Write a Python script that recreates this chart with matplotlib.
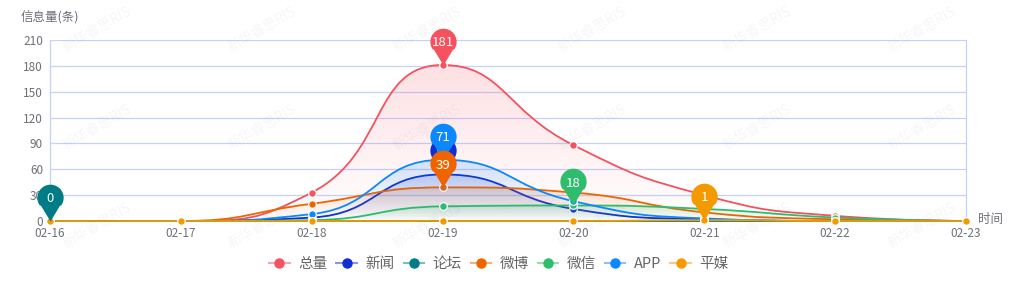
import numpy as np
import matplotlib
matplotlib.use("Agg")
import matplotlib.pyplot as plt
from matplotlib.path import Path
from matplotlib.patches import PathPatch
from matplotlib.lines import Line2D
from matplotlib.colors import to_rgb

plt.rcParams['font.family'] = ['Noto Sans CJK SC', 'DejaVu Sans']

# data
dates = ["02-16", "02-17", "02-18", "02-19", "02-20", "02-21", "02-22", "02-23"]
names = ["总量", "新闻", "论坛", "微博", "微信", "APP", "平媒"]
total = [0, 0, 33, 181, 88, 30, 6, 0]
news = [0, 0, 4, 54, 14, 2, 0, 0]
forum = [0, 0, 0, 0, 0, 0, 0, 0]
weibo = [0, 0, 20, 39, 33, 10, 2, 0]
wechat = [0, 0, 1, 17, 18, 14, 4, 0]
app = [0, 0, 8, 71, 23, 3, 0, 0]
print_media = [0, 0, 0, 0, 0, 1, 0, 0]
y_ticks = [0, 30, 60, 90, 120, 150, 180, 210]

series = [total, news, forum, weibo, wechat, app, print_media]
colors = ["#f5515f", "#0f2fd2", "#007c86", "#f06400", "#2dbd6c", "#0b88ff", "#f29a00"]
# pin drawing order (later on top)
pin_z = [20, 21, 22, 25, 23, 24, 26]

W, H = 1024, 301
fig = plt.figure(figsize=(W / 100, H / 100), dpi=100)
ax = fig.add_axes([50 / W, 1 - 221 / H, (966 - 50) / W, (221 - 40) / H])
ax.set_xlim(0, len(dates) - 1)
ax.set_ylim(0, 210)

# pixel scale for the smoothing (echarts smooths in screen space)
sx = (966 - 50) / (len(dates) - 1)
sy = (221 - 40) / 210


def smooth_path(xs, ys, smooth=0.5):
    px = np.asarray(xs, float) * sx
    py = np.asarray(ys, float) * sy
    n = len(px)
    verts = [(px[0], py[0])]
    codes = [Path.MOVETO]
    cp0 = (px[0], py[0])
    for i in range(1, n):
        x, y = px[i], py[i]
        if i == n - 1:
            cp1 = (x, y)
            nxt = None
        else:
            pX, pY = px[i - 1], py[i - 1]
            nX, nY = px[i + 1], py[i + 1]
            vx, vy = nX - pX, nY - pY
            lp = np.hypot(x - pX, y - pY)
            ln = np.hypot(nX - x, nY - y)
            r = ln / (ln + lp)
            ncx = x + vx * smooth * r
            ncy = y + vy * smooth * r
            ncx = max(min(ncx, max(nX, x)), min(nX, x))
            ncy = max(min(ncy, max(nY, y)), min(nY, y))
            vx, vy = ncx - x, ncy - y
            c1x = x - vx * lp / ln
            c1y = y - vy * lp / ln
            c1x = max(min(c1x, max(pX, x)), min(pX, x))
            c1y = max(min(c1y, max(pY, y)), min(pY, y))
            vx, vy = x - c1x, y - c1y
            ncx = x + vx * ln / lp
            ncy = y + vy * ln / lp
            cp1 = (c1x, c1y)
            nxt = (ncx, ncy)
        verts += [cp0, cp1, (x, y)]
        codes += [Path.CURVE4] * 3
        cp0 = nxt
    verts = [(a / sx, b / sy) for a, b in verts]
    return verts, codes


# pin marker: tip at (0, 0), round head above
R, C = 1.0, 1.8
a = np.arccos(R / C)
ang = np.linspace(-np.pi / 2 + a, 3 * np.pi / 2 - a, 60)
head = np.column_stack([R * np.cos(ang), C + R * np.sin(ang)])
left_t = head[-1]
right_t = head[0]
side_r = [(t * right_t[0] * 0.9, t * right_t[1]) for t in np.linspace(0.05, 0.95, 8)]
side_l = [(t * left_t[0] * 0.9, t * left_t[1]) for t in np.linspace(0.95, 0.05, 8)]
pin_verts = [(0, 0)] + side_r + list(map(tuple, head)) + side_l + [(0, 0)]
pin = Path(pin_verts, [Path.MOVETO] + [Path.LINETO] * (len(pin_verts) - 2) + [Path.CLOSEPOLY])
pin_ms = 53

x = np.arange(len(dates))
for k, (vals, col) in enumerate(zip(series, colors)):
    verts, codes = smooth_path(x, vals)
    z = 3 + k
    # gradient area
    ymax = max(vals)
    if ymax > 0:
        fv = verts + [(x[-1], 0), (x[0], 0), (x[0], vals[0])]
        fc = codes + [Path.LINETO, Path.LINETO, Path.CLOSEPOLY]
        clip = PathPatch(Path(fv, fc), facecolor='none', edgecolor='none', transform=ax.transData)
        ax.add_patch(clip)
        grad = np.zeros((256, 1, 4))
        grad[:, 0, :3] = to_rgb(col)
        grad[:, 0, 3] = np.linspace(0.18, 0.0, 256)
        im = ax.imshow(grad, extent=(x[0], x[-1], 0, ymax), aspect='auto', origin='upper',
                       zorder=z - 0.5, interpolation='bilinear')
        im.set_clip_path(clip)
    ax.add_patch(PathPatch(Path(verts, codes), facecolor='none', edgecolor=col, lw=1.3,
                           zorder=z, clip_on=False))
    ax.plot(x, vals, ls='none', marker='o', ms=5.5, mfc=col, mec='white', mew=0.9,
            zorder=z + 0.1, clip_on=False)

# pins on the max value of each series
head_off = pin_ms * 0.5 * C / (C + R)
for k, (vals, col) in enumerate(zip(series, colors)):
    i = int(np.argmax(vals))
    ax.plot([x[i]], [vals[i]], marker=pin, ms=pin_ms, mfc=col, mec='none', ls='none',
            zorder=pin_z[k], clip_on=False)
    ax.annotate(str(vals[i]), (x[i], vals[i]), xytext=(0, head_off), textcoords='offset points',
                ha='center', va='center_baseline', color='white', fontsize=9.5,
                zorder=pin_z[k] + 0.01)

# axes styling
grid_col = "#c5d0ff"
ax.set_yticks(y_ticks)
ax.set_xticks(x)
ax.set_xticklabels(dates)
ax.grid(axis='y', color=grid_col, lw=0.9)
ax.set_axisbelow(True)
for s in ['top', 'bottom']:
    ax.spines[s].set_visible(False)
for s in ['left', 'right']:
    ax.spines[s].set_color(grid_col)
    ax.spines[s].set_linewidth(0.9)
ax.tick_params(length=0, colors='#6e7079', labelsize=8.5)
ax.tick_params(axis='y', pad=5)
ax.tick_params(axis='x', pad=4.5)

fig.text(21 / W, 1 - 18 / H, "信息量(条)", ha='left', va='center', fontsize=9, color='#6e7079')
fig.text(978 / W, 1 - 220 / H, "时间", ha='left', va='center', fontsize=9, color='#6e7079')

# faint watermark
for wx in np.arange(97, W, 165):
    for wy in np.arange(30, H, 98):
        fig.text(wx / W, 1 - wy / H, "新华睿思RIS", rotation=30, ha='center', va='center',
                 fontsize=10, color='#000000', alpha=0.04)

# legend
handles = [(Line2D([], [], color=c, lw=1.5, alpha=0.5),
            Line2D([], [], ls='none', marker='o', ms=6.5, mfc=c, mec=c)) for c in colors]
fig.legend(handles, names, loc='center', bbox_to_anchor=(499 / W, 1 - 264 / H), ncol=7,
           frameon=False, fontsize=10.5, labelcolor='#666666', handlelength=1.4,
           handletextpad=0.6, columnspacing=0.6)

fig.savefig("out.png", dpi=100)
